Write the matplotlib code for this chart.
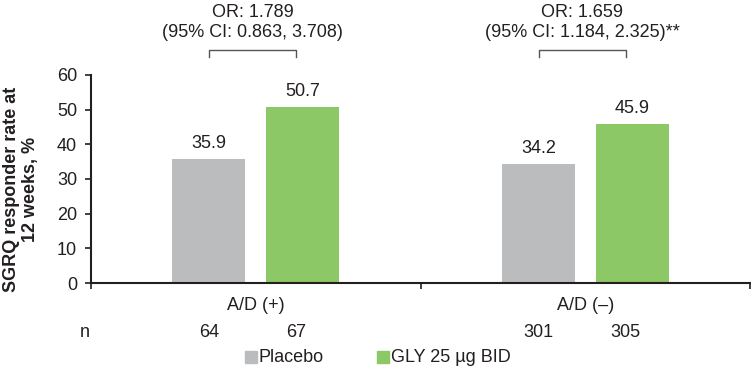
import matplotlib.pyplot as plt

plt.rcParams["font.family"] = ["Liberation Sans", "DejaVu Sans"]

groups = ["A/D (+)", "A/D (\u2013)"]
placebo = [35.9, 34.2]
gly = [50.7, 45.9]
n_placebo = [64, 301]
n_gly = [67, 305]
or_text = ["OR: 1.789\n(95% CI: 0.863, 3.708)",
           "OR: 1.659\n(95% CI: 1.184, 2.325)**"]
yticks = [0, 10, 20, 30, 40, 50, 60]

grey = "#BBBCBE"
green = "#8CC866"
txt = "#231F20"
fs = 13

fig = plt.figure(figsize=(7.51, 3.69), dpi=100)
ax = fig.add_axes([0.121, 0.233, 0.878, 0.564])

centers = [0.5, 1.5]
off = 0.142
w = 0.221
for i, c in enumerate(centers):
    ax.bar(c - off, placebo[i], width=w, color=grey)
    ax.bar(c + off, gly[i], width=w, color=green)
    ax.text(c - off, placebo[i] + 2, f"{placebo[i]}", ha="center", va="bottom", fontsize=fs, color=txt)
    ax.text(c + off, gly[i] + 2, f"{gly[i]}", ha="center", va="bottom", fontsize=fs, color=txt)

ax.set_xlim(0, 2)
ax.set_ylim(0, 60)
ax.set_yticks(yticks)
ax.set_xticks([0, 1, 2])
ax.set_xticklabels([])
ax.tick_params(axis="y", labelsize=fs, colors=txt, length=4, width=1.2, pad=6)
ax.tick_params(axis="x", length=4, width=1.2, colors=txt)
for s in ["top", "right"]:
    ax.spines[s].set_visible(False)
for s in ["left", "bottom"]:
    ax.spines[s].set_linewidth(1.5)
    ax.spines[s].set_color(txt)

ax.set_ylabel("SGRQ responder rate at\n12 weeks, %", fontsize=fs, fontweight="bold", color=txt,
              linespacing=1.1, va="center", ha="center")
ax.yaxis.set_label_coords(-0.106, 0.45)

tr = ax.get_xaxis_transform()
for i, c in enumerate(centers):
    ax.text(c, -0.106, groups[i], transform=tr, ha="center", va="center", fontsize=fs, color=txt)
    ax.text(c - off, -0.236, str(n_placebo[i]), transform=tr, ha="center", va="center", fontsize=fs, color=txt)
    ax.text(c + off - 0.02, -0.236, str(n_gly[i]), transform=tr, ha="center", va="center", fontsize=fs, color=txt)
    # bracket
    x0, x1 = c - off, c + off - 0.02
    ax.plot([x0, x0, x1, x1], [1.087, 1.12, 1.12, 1.087], transform=tr, color="#555555", lw=1, clip_on=False)
    ax.text(c - 0.01, 1.165, or_text[i], transform=tr, ha="center", va="bottom", fontsize=fs, color=txt, linespacing=1.2)
ax.text(-0.018, -0.236, "n", transform=tr, ha="center", va="center", fontsize=fs, color=txt)

# legend
fig.patches.append(plt.Rectangle((245 / 751, 1 - 363 / 369), 12 / 751, 12 / 369, transform=fig.transFigure, color=grey))
fig.text(258 / 751, 1 - 357 / 369, "Placebo", ha="left", va="center", fontsize=fs, color=txt)
fig.patches.append(plt.Rectangle((377 / 751, 1 - 363 / 369), 12 / 751, 12 / 369, transform=fig.transFigure, color=green))
fig.text(391 / 751, 1 - 357 / 369, "GLY 25 \u00b5g BID", ha="left", va="center", fontsize=fs, color=txt)

fig.savefig("out.png", dpi=100)
